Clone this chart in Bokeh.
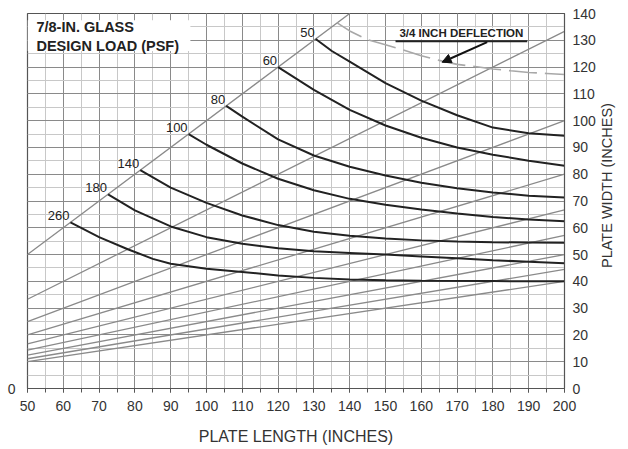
import math
from bokeh.plotting import figure
from bokeh.models import (LinearAxis, FixedTicker, Label, BoxAnnotation, Arrow,
                          NormalHead, Range1d)
from bokeh.core.properties import value
from bokeh.embed import file_html
from bokeh.resources import INLINE

# ---------------- data ----------------
x_ticks = list(range(50, 201, 10))
x_minor = list(range(50, 201, 5))
y_ticks = list(range(0, 141, 10))
y_minor = list(range(0, 141, 5))

# aspect-ratio reference lines (plate length / plate width)
aspect_ratios = [1.0, 1.5, 2.0, 2.5, 3.0, 3.5, 4.0, 4.5, 5.0]

# design load curves (PSF)
load_labels = ["50", "60", "80", "100", "140", "180", "260"]
load_50_x = [130.5, 135, 140, 145, 150, 160, 170, 180, 190, 200]
load_50_y = [130.5, 126, 122, 118, 114, 107.5, 102, 97.4, 95.3, 94.4]
load_60_x = [120, 130, 140, 150, 160, 170, 180, 190, 200]
load_60_y = [120, 111.5, 104, 98.2, 93.6, 90, 87.3, 85, 83.2]
load_80_x = [105.5, 110, 120, 130, 140, 150, 160, 170, 180, 190, 200]
load_80_y = [105.5, 101.5, 93, 87, 82.8, 79.5, 76.8, 74.8, 73.2, 72, 71.3]
load_100_x = [95, 100, 110, 120, 130, 140, 150, 160, 170, 180, 190, 200]
load_100_y = [95, 91, 84, 78.3, 74, 70.8, 68.6, 66.8, 65.3, 64, 63.1, 62.4]
load_140_x = [81.5, 90, 100, 110, 120, 130, 140, 150, 160, 170, 180, 190, 200]
load_140_y = [81.5, 75, 69.3, 64.6, 61, 58.5, 57, 56, 55.3, 54.9, 54.6, 54.5, 54.4]
load_180_x = [72.5, 80, 90, 100, 110, 120, 130, 140, 150, 160, 170, 180, 190, 200]
load_180_y = [72.5, 66.5, 60.5, 56.5, 54, 52.4, 51.2, 50.6, 50, 49.3, 48.6, 47.9, 47.3, 46.8]
load_260_x = [62, 70, 78, 85, 90, 100, 110, 120, 130, 140, 150, 160, 180, 200]
load_260_y = [62, 56.5, 52, 48.4, 46.6, 44.7, 43.5, 42.2, 41.3, 40.7, 40.4, 40.2, 40.1, 40]

# 3/4 inch deflection limit (dashed)
defl_x = [136.5, 140, 145, 150, 155, 160, 165, 170, 175, 180, 185, 190, 195, 200]
defl_y = [136.5, 133.5, 130.2, 128.3, 126.4, 124.2, 122.5, 121, 120.2, 119.3, 118.6, 118, 117.6, 117.2]

# ---------------- figure ----------------
FONT = "Liberation Sans"
p = figure(width=628, height=449, x_range=Range1d(50, 200), y_range=Range1d(0, 140),
           output_backend="svg", toolbar_location=None, y_axis_location="right",
           min_border_left=27, min_border_right=64, min_border_top=13, min_border_bottom=61)
p.background_fill_color = "white"
p.border_fill_color = "white"
p.outline_line_color = "#555555"
p.outline_line_width = 1.2

p.xaxis.ticker = FixedTicker(ticks=x_ticks, minor_ticks=x_minor)
p.yaxis.ticker = FixedTicker(ticks=y_ticks, minor_ticks=y_minor)
for g in (p.xgrid, p.ygrid):
    g.grid_line_color = "#8a8a8a"
    g.grid_line_width = 1
    g.minor_grid_line_color = "#c8c8c8"
    g.minor_grid_line_width = 1

for ax in (p.xaxis, p.yaxis):
    ax.axis_line_color = "#555555"
    ax.major_tick_line_color = "#555555"
    ax.minor_tick_line_color = "#555555"
    ax.major_tick_in = 0
    ax.minor_tick_in = 0
    ax.major_label_text_font = FONT
    ax.major_label_text_font_size = "14px"
    ax.major_label_text_color = "#333333"
    ax.axis_label_text_font = FONT
    ax.axis_label_text_font_style = "normal"
    ax.axis_label_text_color = "#333333"

p.xaxis.major_tick_out = 4
p.xaxis.minor_tick_out = 4
p.xaxis.major_label_standoff = 8
p.xaxis.axis_label = "PLATE LENGTH (INCHES)"
p.xaxis.axis_label_text_font_size = "16px"
p.xaxis.axis_label_standoff = 14

yax = p.yaxis[0]
yax.major_tick_out = 0
yax.minor_tick_out = 0
yax.major_label_standoff = 8

# right-hand axis title (reads bottom-to-top), drawn as the single label of an outer axis
width_title_at = 45
width_title = LinearAxis(ticker=FixedTicker(ticks=[width_title_at]),
                         major_label_overrides={width_title_at: "PLATE WIDTH (INCHES)"},
                         major_label_orientation=math.pi / 2,
                         axis_line_color=None, major_tick_line_color=None,
                         minor_tick_line_color=None, major_tick_out=0, major_tick_in=0,
                         major_label_standoff=9, major_label_text_font=FONT,
                         major_label_text_font_size="14.5px",
                         major_label_text_color="#333333")
p.add_layout(width_title, "right")

left_axis = LinearAxis(ticker=FixedTicker(ticks=[0]), axis_line_color=None,
                       major_tick_line_color=None, minor_tick_line_color=None,
                       major_label_standoff=6, major_label_text_font=FONT,
                       major_label_text_font_size="14px", major_label_text_color="#333333")
p.add_layout(left_axis, "left")

# aspect ratio lines
for r in aspect_ratios:
    x_end = min(200, 140 * r)
    p.line([50, x_end], [50 / r, x_end / r], line_color="#8a8a8a", line_width=1.3)

# load curves
curves = [(load_50_x, load_50_y), (load_60_x, load_60_y), (load_80_x, load_80_y),
          (load_100_x, load_100_y), (load_140_x, load_140_y), (load_180_x, load_180_y),
          (load_260_x, load_260_y)]
for cx, cy in curves:
    p.line(cx, cy, line_color="#222222", line_width=2)

p.text(x=[c[0][0] for c in curves], y=[c[1][0] for c in curves], text=load_labels,
       text_align="right", text_baseline="bottom", x_offset=-1, y_offset=-2,
       text_font=value(FONT), text_font_size=value("13px"), text_color="#222222")

# deflection limit
p.line(defl_x, defl_y, line_color="#a8a8a8", line_width=1.6, line_dash="28 8")

# title box
p.add_layout(BoxAnnotation(left=50, right=95.5, bottom=126, top=137.5,
                           fill_color="white", fill_alpha=1, line_color=None))
p.add_layout(Label(x=52.5, y=134.8, text="7/8-IN. GLASS", text_font=FONT,
                   text_font_style="bold", text_font_size="14.5px", text_color="#222222",
                   text_baseline="middle"))
p.add_layout(Label(x=52.5, y=128.0, text="DESIGN LOAD (PSF)", text_font=FONT,
                   text_font_style="bold", text_font_size="14.5px", text_color="#222222",
                   text_baseline="middle"))

# deflection label
p.add_layout(BoxAnnotation(left=152.8, right=189.6, bottom=130.3, top=134.8,
                           fill_color="white", fill_alpha=1, line_color=None))
p.add_layout(Label(x=171.2, y=132.6, text="3/4 INCH DEFLECTION", text_font=FONT,
                   text_font_style="bold", text_font_size="11.5px", text_color="#222222",
                   text_align="center", text_baseline="middle"))
p.line([152.8, 189.6], [129.6, 129.6], line_color="#222222", line_width=2)
p.add_layout(Arrow(end=NormalHead(size=9, fill_color="#111111", line_color="#111111"),
                   x_start=178.4, y_start=129.3, x_end=165.8, y_end=121.8,
                   line_color="#111111", line_width=2))

open("out.html", "w").write(file_html(p, INLINE))
